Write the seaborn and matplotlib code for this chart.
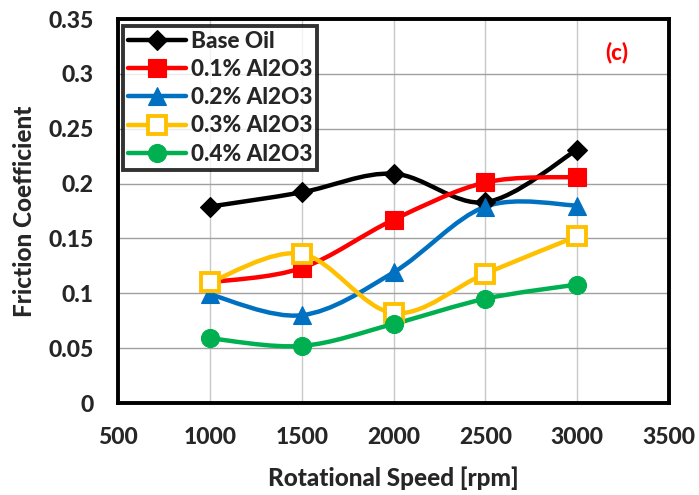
import numpy as np
import pandas as pd
import matplotlib
matplotlib.use("Agg")
import matplotlib.pyplot as plt
from matplotlib.path import Path
from matplotlib.patches import PathPatch
from matplotlib.lines import Line2D
import seaborn as sns

speeds = [1000, 1500, 2000, 2500, 3000]
base_oil = [0.179, 0.192, 0.209, 0.183, 0.231]
al2o3_01 = [0.110, 0.123, 0.167, 0.201, 0.206]
al2o3_02 = [0.099, 0.080, 0.119, 0.179, 0.180]
al2o3_03 = [0.110, 0.136, 0.082, 0.118, 0.152]
al2o3_04 = [0.059, 0.052, 0.072, 0.095, 0.108]

series_names = ["Base Oil", "0.1% Al2O3", "0.2% Al2O3", "0.3% Al2O3", "0.4% Al2O3"]
series_values = [base_oil, al2o3_01, al2o3_02, al2o3_03, al2o3_04]
colors = ["#000000", "#ff0000", "#0070c0", "#ffc000", "#00b050"]
markers = ["D", "s", "^", "s", "o"]
marker_faces = ["#000000", "#ff0000", "#0070c0", "#ffffff", "#00b050"]
marker_sizes = [10.5, 13.5, 13, 12.5, 13]

x_ticks = [500, 1000, 1500, 2000, 2500, 3000, 3500]
x_labels = ["500", "1000", "1500", "2000", "2500", "3000", "3500"]
y_ticks = [0, 0.05, 0.1, 0.15, 0.2, 0.25, 0.3, 0.35]
y_labels = ["0", "0.05", "0.1", "0.15", "0.2", "0.25", "0.3", "0.35"]

W = "black"

sns.set_theme(style="white")
plt.rcParams["font.family"] = ["Lato", "DejaVu Sans"]
plt.rcParams["font.weight"] = W

df = pd.DataFrame({
    "speed": speeds * len(series_names),
    "cof": np.concatenate(series_values),
    "series": np.repeat(series_names, len(speeds)),
})

fig = plt.figure(figsize=(6.99, 4.95), dpi=100)
ax = fig.add_axes([118 / 699, 1 - 403 / 495, (669 - 118) / 699, (403 - 19) / 495])


def smooth_path(xs, ys, tension=1 / 6):
    """Cubic Bezier path through the points, Catmull-Rom style control points."""
    pts = np.column_stack([xs, ys]).astype(float)
    verts = [pts[0]]
    codes = [Path.MOVETO]
    n = len(pts)
    for i in range(n - 1):
        p0 = pts[i - 1] if i > 0 else pts[i]
        p1 = pts[i]
        p2 = pts[i + 1]
        p3 = pts[i + 2] if i + 2 < n else pts[i + 1]
        c1 = p1 + (p2 - p0) * tension
        c2 = p2 - (p3 - p1) * tension
        verts += [c1, c2, p2]
        codes += [Path.CURVE4] * 3
    return Path(verts, codes)


# Smoothed connecting curves (spline built in a roughly isotropic space)
sx, sy = 1 / 500.0, 1 / 0.05
for name, vals, col in zip(series_names, series_values, colors):
    p = smooth_path(np.array(speeds) * sx, np.array(vals) * sy)
    p = Path(p.vertices / np.array([sx, sy]), p.codes)
    ax.add_patch(PathPatch(p, facecolor="none", edgecolor=col, lw=3.2, zorder=3))

# Markers
for name, col, mk, fc, ms in zip(series_names, colors, markers, marker_faces, marker_sizes):
    sub = df[df["series"] == name]
    sns.lineplot(data=sub, x="speed", y="cof", ax=ax, linestyle="none",
                 marker=mk, markersize=ms, markerfacecolor=fc,
                 markeredgecolor=col, markeredgewidth=2.8 if fc == "#ffffff" else 0.8,
                 color=col, zorder=4, legend=False)

ax.set_xlim(500, 3500)
ax.set_ylim(0, 0.35)
ax.set_xticks(x_ticks, labels=x_labels, fontsize=16.5, fontweight=W)
ax.set_yticks(y_ticks, labels=y_labels, fontsize=16.5, fontweight=W)
ax.tick_params(axis="both", direction="out", length=6.5, width=1,
               color="#909090", pad=11)

ax.set_axisbelow(True)
ax.xaxis.grid(True, color="#c8c8c8", lw=1)
ax.yaxis.grid(True, color="#a0a0a0", lw=1)

for side in ["top", "right", "left", "bottom"]:
    ax.spines[side].set_color("black")
    ax.spines[side].set_linewidth(2.8)

ax.set_xlabel("Rotational Speed [rpm]", fontsize=17.5, fontweight=W, labelpad=13)
ax.set_ylabel("Friction Coefficient", fontsize=17.5, fontweight=W, labelpad=9)

ax.text(3217, 0.32, "(c)", color="#ff0000", fontsize=16, fontweight=W,
        ha="center", va="center")

handles = [Line2D([0], [0], color=c, lw=3.2, marker=m, markersize=s,
                  markerfacecolor=f, markeredgecolor=c,
                  markeredgewidth=2.8 if f == "#ffffff" else 0.8)
           for c, m, f, s in zip(colors, markers, marker_faces, marker_sizes)]
leg = ax.legend(handles, series_names, loc="upper left", bbox_to_anchor=(0.005, 0.988),
                prop={"size": 16.2, "weight": W}, frameon=True, fancybox=False,
                handlelength=2.6, handletextpad=0.2, borderpad=0.22,
                labelspacing=0.32, borderaxespad=0.1)
leg.get_frame().set_edgecolor("black")
leg.get_frame().set_linewidth(2.8)

fig.savefig("out.png", dpi=100)
